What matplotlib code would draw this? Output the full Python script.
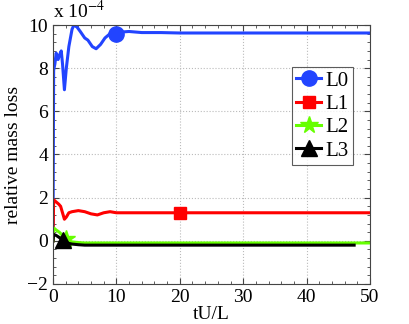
import matplotlib
matplotlib.use("Agg")
import matplotlib.pyplot as plt
from matplotlib.ticker import MultipleLocator

plt.rcParams['font.family'] = ['Liberation Serif', 'DejaVu Serif']
plt.rcParams['mathtext.fontset'] = 'stix'

# data (values in units of 1e-4)
t0 = [0, 0.1, 0.3, 0.5, 0.8, 1.0, 1.3, 1.5, 1.8, 2.1, 2.5, 3.0, 3.3, 3.8, 4.3, 5.0, 5.5, 6.2, 6.8, 7.5, 8.2, 9.0, 10.0, 11.0, 12.0, 14.0, 17.0, 20.0, 30.0, 40.0, 50.0]
L0 = [0, 7.9, 8.2, 8.7, 8.4, 8.6, 8.8, 8.2, 7.0, 8.0, 9.0, 9.8, 10.0, 9.9, 9.7, 9.4, 9.3, 9.0, 8.9, 9.1, 9.4, 9.6, 9.6, 9.68, 9.7, 9.65, 9.65, 9.63, 9.63, 9.63, 9.63]
t1 = [0, 0.1, 0.5, 0.9, 1.2, 1.5, 1.8, 2.1, 2.5, 3.0, 4.0, 5.0, 6.0, 7.0, 8.0, 9.0, 10.0, 12.0, 15.0, 20.0, 30.0, 40.0, 50.0]
L1 = [0, 1.9, 1.8, 1.7, 1.6, 1.3, 1.0, 1.1, 1.3, 1.35, 1.4, 1.35, 1.25, 1.2, 1.3, 1.35, 1.3, 1.3, 1.3, 1.3, 1.3, 1.3, 1.3]
t2 = [0, 0.1, 0.5, 1.0, 1.5, 2.0, 2.5, 3.0, 4.0, 5.0, 10.0, 20.0, 30.0, 40.0, 50.0]
L2 = [0, 0.6, 0.5, 0.4, 0.25, 0.1, 0.0, -0.05, -0.08, -0.1, -0.1, -0.1, -0.1, -0.1, -0.1]
t3 = [0, 0.1, 0.5, 1.0, 1.5, 2.0, 2.5, 3.0, 4.0, 5.0, 10.0, 20.0, 30.0, 40.0, 47.5]
L3 = [0, 0.3, 0.25, 0.15, 0.05, -0.05, -0.12, -0.15, -0.18, -0.2, -0.2, -0.2, -0.2, -0.2, -0.2]
labels = ['L0', 'L1', 'L2', 'L3']
mark_idx = [22, 19, 5, 4]

fig = plt.figure(figsize=(4.09, 3.24), dpi=100)
ax = fig.add_axes([0.1296, 0.1235, 0.7750, 0.7993])

series = [(t0, L0, '#2244ff', 'o', 11), (t1, L1, '#ff0000', 's', 9),
          (t2, L2, '#66ff00', '*', 13), (t3, L3, '#000000', '^', 11)]
for (t, y, c, m, ms), lab, mi in zip(series, labels, mark_idx):
    ax.plot(t, y, color=c, lw=2.2, marker=m, ms=ms, markevery=[mi], label=lab)

ax.set_xlim(0, 50)
ax.set_ylim(-2, 10)
ax.xaxis.set_major_locator(MultipleLocator(10))
ax.xaxis.set_minor_locator(MultipleLocator(2))
ax.yaxis.set_major_locator(MultipleLocator(2))
ax.yaxis.set_minor_locator(MultipleLocator(0.4))
ax.tick_params(which='both', direction='in', top=True, right=True, labelsize=14, color='#444444')
ax.tick_params(which='major', length=4)
ax.tick_params(which='minor', length=2)
ax.grid(True, which='major', linestyle=':', color='#bbbbbb', lw=0.8)
for s in ax.spines.values():
    s.set_color('#444444')
    s.set_linewidth(0.8)

ax.set_xlabel('tU/L', fontsize=14, labelpad=0)
ax.set_ylabel('relative mass loss', fontsize=14, labelpad=4)
ax.text(0.0, 1.01, r'x 10$^{-4}$', transform=ax.transAxes, fontsize=14, va='bottom', ha='left')

leg = ax.legend(loc='upper right', bbox_to_anchor=(0.946, 0.838), fontsize=15, frameon=True,
                fancybox=False, edgecolor='#333333', handlelength=1.2, handletextpad=0.2,
                borderpad=0.2, labelspacing=0.18, borderaxespad=0)
leg.get_frame().set_linewidth(0.8)

fig.savefig('out.png', dpi=100)
